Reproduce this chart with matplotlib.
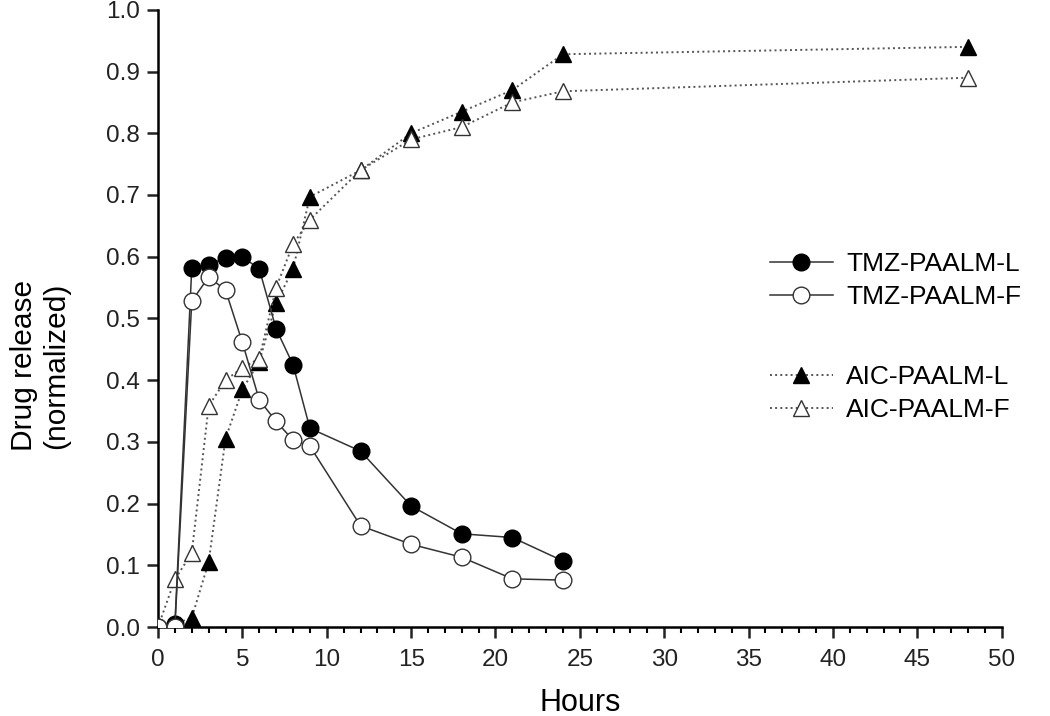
import matplotlib.pyplot as plt
from matplotlib.lines import Line2D
from matplotlib.ticker import MultipleLocator

plt.rcParams['font.family'] = ['Liberation Sans', 'DejaVu Sans']

# sampling times (hours)
hours_tmz = [0, 1, 2, 3, 4, 5, 6, 7, 8, 9, 12, 15, 18, 21, 24]
hours_aic = [0, 1, 2, 3, 4, 5, 6, 7, 8, 9, 12, 15, 18, 21, 24, 48]

tmz_l = [0.0, 0.005, 0.582, 0.587, 0.598, 0.600, 0.580, 0.483, 0.425, 0.322,
         0.285, 0.196, 0.151, 0.145, 0.107]
tmz_f = [0.0, 0.0, 0.528, 0.567, 0.546, 0.461, 0.368, 0.333, 0.303, 0.293,
         0.164, 0.134, 0.113, 0.078, 0.076]
aic_l = [0.0, 0.005, 0.015, 0.105, 0.305, 0.385, 0.430, 0.525, 0.580, 0.697,
         0.740, 0.800, 0.835, 0.870, 0.928, 0.940]
aic_f = [0.0, 0.077, 0.120, 0.358, 0.400, 0.420, 0.435, 0.550, 0.620, 0.660,
         0.740, 0.790, 0.810, 0.850, 0.868, 0.890]


def main():
    fig = plt.figure(figsize=(10.5, 7.16), dpi=100)
    ax = fig.add_axes([0.1505, 0.1243, 0.8035, 0.862])

    ms = 12
    tmz_style = dict(ls='-', color='#333333', lw=1.1, marker='o', ms=ms)
    aic_style = dict(ls=':', color='#555555', lw=1.4, marker='^', ms=ms)

    ax.plot(hours_aic, aic_l, mfc='black', mec='black', zorder=2, **aic_style)
    ax.plot(hours_aic, aic_f, mfc='white', mec='#333333', mew=1.0, zorder=2,
            **aic_style)
    ax.plot(hours_tmz, tmz_l, mfc='black', mec='black', zorder=3, **tmz_style)
    ax.plot(hours_tmz, tmz_f, mfc='white', mec='#333333', mew=1.0, zorder=3,
            **tmz_style)

    ax.set_xlim(0, 50)
    ax.set_ylim(0, 1.0)
    ax.xaxis.set_major_locator(MultipleLocator(5))
    ax.xaxis.set_minor_locator(MultipleLocator(1))
    ax.yaxis.set_major_locator(MultipleLocator(0.1))
    ax.yaxis.set_major_formatter(plt.FuncFormatter(lambda v, p: f"{v:.1f}"))
    ax.spines['top'].set_visible(False)
    ax.spines['right'].set_visible(False)
    ax.spines['left'].set_linewidth(1.8)
    ax.spines['bottom'].set_linewidth(1.8)
    ax.tick_params(axis='both', which='major', direction='out', length=8,
                   width=1.8, labelsize=17.5, colors='#222222')
    ax.tick_params(axis='x', which='major', pad=8)
    ax.tick_params(axis='y', which='major', pad=5)
    ax.tick_params(axis='x', which='minor', direction='out', length=4, width=1.5)

    ax.set_xlabel('Hours', fontsize=22, labelpad=12)
    ax.set_ylabel('Drug release\n(normalized)', fontsize=21.5)
    ax.yaxis.set_label_coords(-0.104, 0.423)

    h_tmz = [Line2D([], [], mfc='black', mec='black', **tmz_style),
             Line2D([], [], mfc='white', mec='#333333', **tmz_style)]
    h_aic = [Line2D([], [], mfc='black', mec='black', **aic_style),
             Line2D([], [], mfc='white', mec='#333333', **aic_style)]
    leg_kw = dict(loc='center left', frameon=False, fontsize=19,
                  handlelength=2.4, handletextpad=0.5, labelspacing=0.35)
    leg1 = ax.legend(h_tmz, ['TMZ-PAALM-L', 'TMZ-PAALM-F'],
                     bbox_to_anchor=(0.697, 0.561), **leg_kw)
    ax.add_artist(leg1)
    ax.legend(h_aic, ['AIC-PAALM-L', 'AIC-PAALM-F'],
              bbox_to_anchor=(0.697, 0.378), **leg_kw)

    fig.savefig('out.png', dpi=100)


if __name__ == "__main__":
    main()
